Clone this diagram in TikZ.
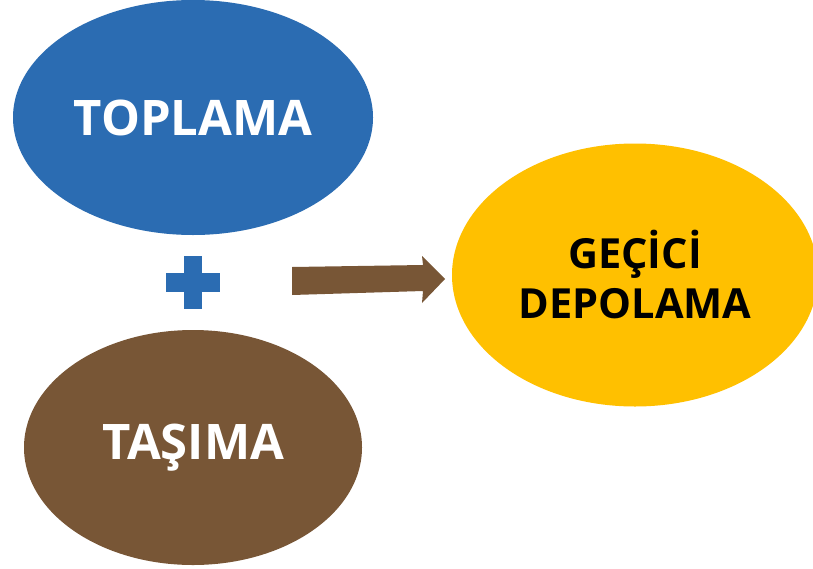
\documentclass[tikz,border=0pt]{standalone}
\usepackage{fontspec}
\setmainfont{Open Sans}
\usetikzlibrary{shapes.geometric}
\definecolor{cblue}{HTML}{2B6CB2}
\definecolor{cbrown}{HTML}{785636}
\definecolor{cgold}{HTML}{FFC000}
\tikzset{
  blob/.style={ellipse, inner sep=0pt, draw=none, align=center, font=\bfseries},
}
\begin{document}
\begin{tikzpicture}[x=1pt,y=-1pt]
\useasboundingbox (0,0) rectangle (813,568);
\fill[white] (0,0) rectangle (813,568);
\node[blob, fill=cblue, text=white, minimum width=360pt, minimum height=235pt,
      font=\fontsize{49}{56}\selectfont\bfseries] (toplama) at (193,117.5) {TOPLAMA};
\node[blob, fill=cbrown, text=white, minimum width=338pt, minimum height=235pt,
      font=\fontsize{49}{56}\selectfont\bfseries] (tasima) at (193,447.5) {TAŞIMA};
\node[blob, fill=cgold, text=black, minimum width=366pt, minimum height=263pt,
      font=\fontsize{41.5}{50}\selectfont\bfseries] (gecici) at (635,275) {GEÇİCİ\\DEPOLAMA};
% plus sign
\fill[cblue] (166,273) rectangle (220,292);
\fill[cblue] (184,256) rectangle (202,309);
% block arrow
\coordinate (a1) at (292,267);
\coordinate (a2) at (423,265);
\coordinate (a3) at (422,256);
\coordinate (tip) at (445,279);
\coordinate (a4) at (422,303);
\coordinate (a5) at (423,291);
\coordinate (a6) at (292,295);
\fill[cbrown] (a1) -- (a2) -- (a3) -- (tip) -- (a4) -- (a5) -- (a6) -- cycle;
\end{tikzpicture}
\end{document}
